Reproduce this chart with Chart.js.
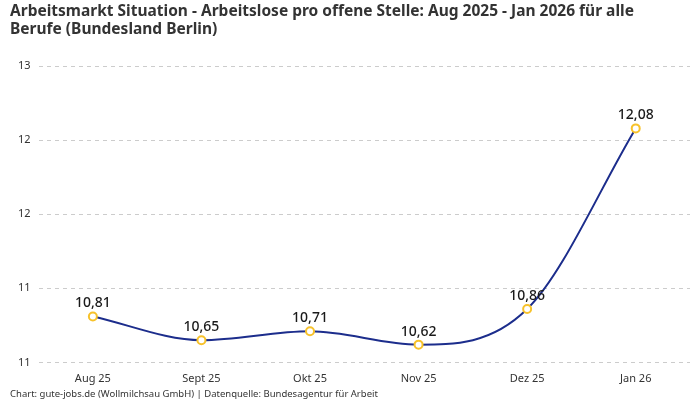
<!DOCTYPE html>
<html>
<head>
<meta charset="utf-8">
<script src="https://cdn.jsdelivr.net/npm/chart.js@4"></script>
<style>
  html, body { margin: 0; padding: 0; background: #fff; }
  #wrap { width: 700px; height: 400px; }
</style>
</head>
<body>
<div id="wrap"><canvas id="chartArea"></canvas></div>
<script>
var months = ['Aug 25', 'Sept 25', 'Okt 25', 'Nov 25', 'Dez 25', 'Jan 26'];
var arbeitslose = [10.81, 10.65, 10.71, 10.62, 10.86, 12.08];
var yMin = 10.5, yMax = 12.5, yStep = 0.5;

var fontName = "'Noto Sans', 'Open Sans', sans-serif";

// draws the value above each point (like datalabels)
var valueLabels = {
    id: 'valueLabels',
    afterDatasetsDraw: function (chart) {
        var ctx = chart.ctx;
        var meta = chart.getDatasetMeta(0);
        ctx.save();
        ctx.font = '500 14px ' + fontName;
        ctx.fillStyle = '#1a1a1a';
        ctx.textAlign = 'center';
        ctx.textBaseline = 'bottom';
        meta.data.forEach(function (pt, i) {
            var txt = arbeitslose[i].toFixed(2).replace('.', ',');
            ctx.fillText(txt, pt.x, pt.y - 6);
        });
        ctx.restore();
    }
};

var config = {
    type: 'line',
    data: {
        labels: months,
        datasets: [{
            label: 'Arbeitslose pro offene Stelle',
            data: arbeitslose,
            borderColor: '#1c2d8c',
            borderWidth: 2,
            cubicInterpolationMode: 'monotone',
            pointRadius: 4,
            pointHoverRadius: 4,
            pointBackgroundColor: '#ffffff',
            pointBorderColor: '#f7c22b',
            pointBorderWidth: 2,
            fill: false
        }]
    },
    options: {
        responsive: true,
        maintainAspectRatio: false,
        animation: false,
        layout: { padding: { left: 10, right: 10, top: 0, bottom: 0 } },
        plugins: {
            legend: { display: false },
            tooltip: { enabled: false },
            title: {
                display: true,
                text: ['Arbeitsmarkt Situation - Arbeitslose pro offene Stelle: Aug 2025 - Jan 2026 für alle', 'Berufe (Bundesland Berlin)'],
                align: 'start',
                color: '#333333',
                font: { family: fontName, size: 15.5, weight: 'bold', lineHeight: 1.2 },
                padding: { top: 2, bottom: 27 }
            },
            subtitle: {
                display: true,
                position: 'bottom',
                align: 'start',
                text: 'Chart: gute-jobs.de (Wollmilchsau GmbH) | Datenquelle: Bundesagentur für Arbeit',
                color: '#333333',
                font: { family: fontName, size: 9.5 },
                padding: { top: 1, bottom: 0 }
            }
        },
        scales: {
            x: {
                offset: true,
                grid: { display: false },
                border: { display: false },
                ticks: { color: '#333333', font: { family: fontName, size: 11 }, padding: 2 }
            },
            y: {
                min: yMin,
                max: yMax,
                grid: { color: '#cccccc', lineWidth: 1, drawTicks: false },
                border: { display: false, dash: [4, 4] },
                ticks: {
                    stepSize: yStep,
                    color: '#333333',
                    font: { family: fontName, size: 11 },
                    padding: 8,
                    callback: function (v) { return Math.round(v); }
                }
            }
        }
    },
    plugins: [valueLabels]
};

var ctx = document.getElementById('chartArea').getContext('2d');
var myNewChart = new Chart(ctx, config);
</script>
</body>
</html>
